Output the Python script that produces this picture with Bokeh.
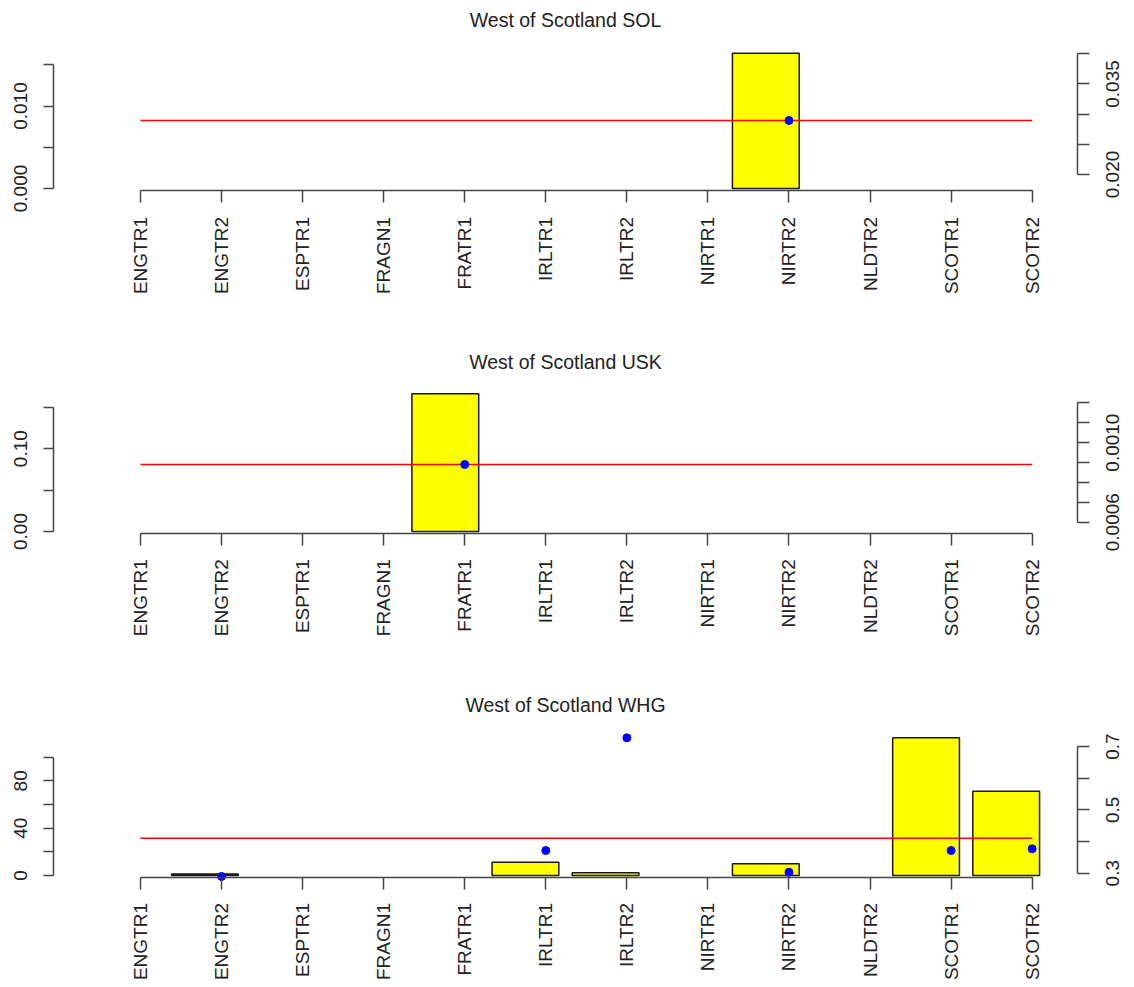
import math
from bokeh.plotting import figure
from bokeh.models import (Range1d, LinearAxis, FixedTicker, PrintfTickFormatter,
                          ColumnDataSource, Label, LabelSet)
from bokeh.core.properties import value
from bokeh.layouts import column
from bokeh.embed import file_html
from bokeh.resources import INLINE

# ---------------- data ----------------
categories = ["ENGTR1", "ENGTR2", "ESPTR1", "FRAGN1", "FRATR1", "IRLTR1",
              "IRLTR2", "NIRTR1", "NIRTR2", "NLDTR2", "SCOTR1", "SCOTR2"]

titles = ["West of Scotland SOL", "West of Scotland USK", "West of Scotland WHG"]

# bar heights (left axis); None = no bar
sol_bars = [None, None, None, None, None, None, None, None, 0.0164, None, None, None]
usk_bars = [None, None, None, None, 0.1662, None, None, None, None, None, None, None]
whg_bars = [None, 1.2, None, None, None, 11.2, 2.4, None, 9.9, None, 116.4, 71.2]

# point values (right axis); None = no point
sol_pts = [None, None, None, None, None, None, None, None, 0.02895, None, None, None]
usk_pts = [None, None, None, None, 0.00089, None, None, None, None, None, None, None]
whg_pts = [None, 0.2896, None, None, None, 0.3716, 0.7274, None, 0.303, None, 0.3716, 0.377]

# reference (mean) line values (right axis)
sol_mean = 0.02895
usk_mean = 0.00089
whg_mean = 0.4105

# axis ticks (labelled / unlabelled)
sol_left_major, sol_left_minor = [0.0, 0.010], [0.005, 0.015]
sol_right_major, sol_right_minor = [0.020, 0.035], [0.025, 0.030, 0.040]
usk_left_major, usk_left_minor = [0.0, 0.10], [0.05, 0.15]
usk_right_major, usk_right_minor = [0.0006, 0.0010], [0.0007, 0.0008, 0.0009, 0.0011, 0.0012]
whg_left_major, whg_left_minor = [0, 40, 80], [20, 60, 100]
whg_right_major, whg_right_minor = [0.3, 0.5, 0.7], [0.4, 0.6]

FONT = "Liberation Sans"
AX_COL = "#444444"
TXT_COL = "#222222"
W = 1134
# plotting region inside each figure (pixels)
PL, PR, PT, PH = 53, 1077, 46, 150

X_LIM = (-0.0732, 12.559)       # point / category scale across the plotting region
BAR_LIM = (-0.368, 14.968)      # bar scale across the plotting region


def ext(a, b, before, after, span):
    u = (b - a) / span
    return (a - before * u, b + after * u)


def style_axis(ax, tick_out, standoff, orient):
    ax.axis_line_color = AX_COL
    ax.axis_line_width = 1.5
    ax.major_tick_line_color = AX_COL
    ax.major_tick_line_width = 1.5
    ax.minor_tick_line_color = AX_COL
    ax.minor_tick_line_width = 1.5
    ax.major_tick_in = 0
    ax.minor_tick_in = 0
    ax.major_tick_out = tick_out
    ax.minor_tick_out = tick_out
    ax.major_label_standoff = standoff
    ax.major_label_text_font = FONT
    ax.major_label_text_font_size = "19px"
    ax.major_label_text_color = TXT_COL
    ax.major_label_orientation = orient


def make_panel(title, bars, pts, mean_val, height, left_rng, right_rng,
               lmaj, lmin, lfmt, rmaj, rmin, rfmt, axis_loc):
    below = height - PT - PH
    p = figure(width=W, height=height, output_backend="svg", toolbar_location=None,
               title=None,
               x_range=Range1d(*ext(*X_LIM, PL, W - PR, PR - PL)),
               y_range=Range1d(*ext(*left_rng, below, PT, PH)),
               x_axis_location=None, y_axis_location=None,
               min_border_left=0, min_border_right=0, min_border_top=0,
               min_border_bottom=0)
    p.outline_line_color = None
    p.background_fill_color = "white"
    p.border_fill_color = "white"
    p.xgrid.visible = False
    p.ygrid.visible = False
    p.extra_x_ranges = {"bars": Range1d(*ext(*BAR_LIM, PL, W - PR, PR - PL))}
    p.extra_y_ranges = {"pts": Range1d(*ext(*right_rng, below, PT, PH))}

    # panel title
    p.add_layout(Label(x=(PL + PR) / 2, y=height - 19.7, x_units="screen", y_units="screen",
                       text=title, text_align="center", text_baseline="middle",
                       text_font=FONT, text_font_size="19.5px", text_color=TXT_COL))

    n = len(categories)
    # category axis
    xa = LinearAxis(ticker=FixedTicker(ticks=list(range(1, n + 1))),
                    major_label_overrides={i + 1: c for i, c in enumerate(categories)},
                    bounds=(1, n), fixed_location=axis_loc)
    style_axis(xa, 12, 14, math.pi / 2)
    p.add_layout(xa, "below")

    # left axis (bars)
    lt = sorted(lmaj + lmin)
    ya = LinearAxis(ticker=FixedTicker(ticks=lmaj, minor_ticks=lmin),
                    formatter=PrintfTickFormatter(format=lfmt),
                    bounds=(lt[0], lt[-1]), fixed_location=X_LIM[0])
    style_axis(ya, 10, 16, "vertical")
    p.add_layout(ya, "left")

    # right axis (points): line + ticks; labels parallel to the axis, reading upwards
    rt = sorted(rmaj + rmin)
    yb = LinearAxis(y_range_name="pts", ticker=FixedTicker(ticks=[], minor_ticks=rt),
                    bounds=(rt[0], rt[-1]), fixed_location=X_LIM[1])
    style_axis(yb, 12, 12, "vertical")
    p.add_layout(yb, "right")
    rsrc = ColumnDataSource(dict(y=rmaj, text=[rfmt % v for v in rmaj],
                                 x=[PR + 35] * len(rmaj)))
    p.add_layout(LabelSet(x="x", y="y", text="text", source=rsrc, x_units="screen",
                          y_range_name="pts", angle=math.pi / 2,
                          text_align="center", text_baseline="middle",
                          text_font=value(FONT), text_font_size=value("19px"),
                          text_color=TXT_COL))

    idx = [i for i, v in enumerate(bars) if v is not None]
    bsrc = ColumnDataSource(dict(left=[0.2 + 1.2 * i for i in idx],
                                 right=[1.2 + 1.2 * i for i in idx],
                                 top=[bars[i] for i in idx]))
    p.quad(left="left", right="right", top="top", bottom=0, source=bsrc,
           x_range_name="bars", fill_color="#FFFF00", line_color="#1a1a1a", line_width=1.5)

    p.line(x=[1, n], y=[mean_val, mean_val], y_range_name="pts",
           line_color="#FF0000", line_width=1.5)

    pidx = [i for i, v in enumerate(pts) if v is not None]
    psrc = ColumnDataSource(dict(x=[i + 1 for i in pidx], y=[pts[i] for i in pidx]))
    p.scatter(x="x", y="y", source=psrc, y_range_name="pts", size=8,
              fill_color="#0000FF", line_color="#0000FF")
    return p


p1 = make_panel(titles[0], sol_bars, sol_pts, sol_mean, 342,
                (-0.00097, 0.01722), (0.016355, 0.04121),
                sol_left_major, sol_left_minor, "%.3f",
                sol_right_major, sol_right_minor, "%.3f", -0.0003)
p2 = make_panel(titles[1], usk_bars, usk_pts, usk_mean, 343,
                (-0.00845, 0.17257), (0.000518, 0.001272),
                usk_left_major, usk_left_minor, "%.2f",
                usk_right_major, usk_right_minor, "%.4f", -0.002)
p3 = make_panel(titles[2], whg_bars, whg_pts, whg_mean, 302,
                (-5.07, 121.7), (0.2738, 0.7474),
                whg_left_major, whg_left_minor, "%d",
                whg_right_major, whg_right_minor, "%.1f", -1.3)

layout = column(p1, p2, p3, spacing=0)
open("out.html", "w").write(file_html(layout, INLINE))
